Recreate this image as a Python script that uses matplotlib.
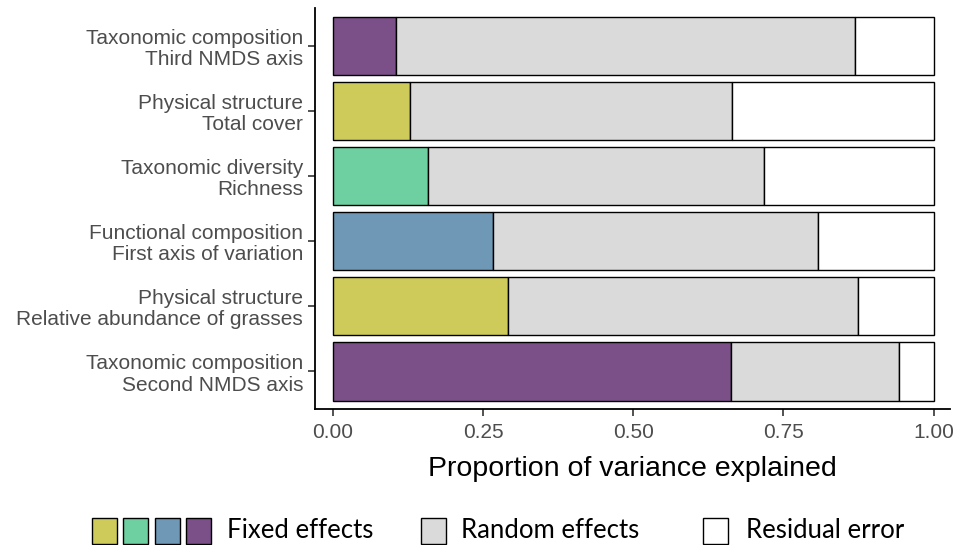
import matplotlib.pyplot as plt
from matplotlib.patches import Rectangle

labels = [
    "Taxonomic composition\nThird NMDS axis",
    "Physical structure\nTotal cover",
    "Taxonomic diversity\nRichness",
    "Functional composition\nFirst axis of variation",
    "Physical structure\nRelative abundance of grasses",
    "Taxonomic composition\nSecond NMDS axis",
]
fixed = [0.105, 0.128, 0.158, 0.266, 0.291, 0.663]
random_eff = [0.764, 0.536, 0.559, 0.541, 0.583, 0.280]
fixed_colors = ["#7B4F87", "#CFCB5A", "#6ECFA0", "#6E98B5", "#CFCB5A", "#7B4F87"]
GREY = "#DADADA"
TEXT = "#4D4D4D"

fig = plt.figure(figsize=(9.56, 5.45), dpi=100)
ax = fig.add_axes([0.3295, 0.2495, 0.664, 0.7355])

n = len(labels)
ypos = [n - 1 - i for i in range(n)]
resid = [1 - f - r for f, r in zip(fixed, random_eff)]
h = 0.9
ax.barh(ypos, fixed, height=h, color=fixed_colors, edgecolor="black", linewidth=1)
ax.barh(ypos, random_eff, left=fixed, height=h, color=GREY, edgecolor="black", linewidth=1)
ax.barh(ypos, resid, left=[f + r for f, r in zip(fixed, random_eff)], height=h,
        color="white", edgecolor="black", linewidth=1)

ax.set_xlim(-0.03, 1.027)
ax.set_ylim(-0.58, n - 1 + 0.58)
ax.set_yticks(ypos)
ax.set_yticklabels(labels, fontsize=15, color=TEXT, family="Liberation Sans",
                   linespacing=1.15)
ax.set_xticks([0, 0.25, 0.5, 0.75, 1.0])
ax.set_xticklabels(["0.00", "0.25", "0.50", "0.75", "1.00"], fontsize=15,
                   color=TEXT, family="Liberation Sans")
ax.tick_params(length=5, width=1.2, color="#333333")
ax.tick_params(axis="x", pad=5)
for s in ["top", "right"]:
    ax.spines[s].set_visible(False)
for s in ["left", "bottom"]:
    ax.spines[s].set_linewidth(1.3)
ax.set_xlabel("Proportion of variance explained", fontsize=20.5,
              family="Liberation Sans", labelpad=10)

# legend drawn by hand at figure level
W, H = 956, 545
def box(x0, x1, color):
    fig.patches.append(Rectangle((x0 / W, 1 - 544 / H), (x1 - x0) / W, 26 / H,
                                 transform=fig.transFigure, facecolor=color,
                                 edgecolor="black", linewidth=1))
for (x0, x1), c in zip([(92, 117), (123, 148), (155, 180), (186, 211)],
                       ["#CFCB5A", "#6ECFA0", "#6E98B5", "#7B4F87"]):
    box(x0, x1, c)
box(421, 446, GREY)
box(703, 728, "white")
for x, t in [(227, "Fixed effects"), (461, "Random effects"), (746, "Residual error")]:
    fig.text(x / W, 1 - 531 / H, t, fontsize=18.5, family="Lato", va="center")

fig.savefig("out.png", dpi=100)
